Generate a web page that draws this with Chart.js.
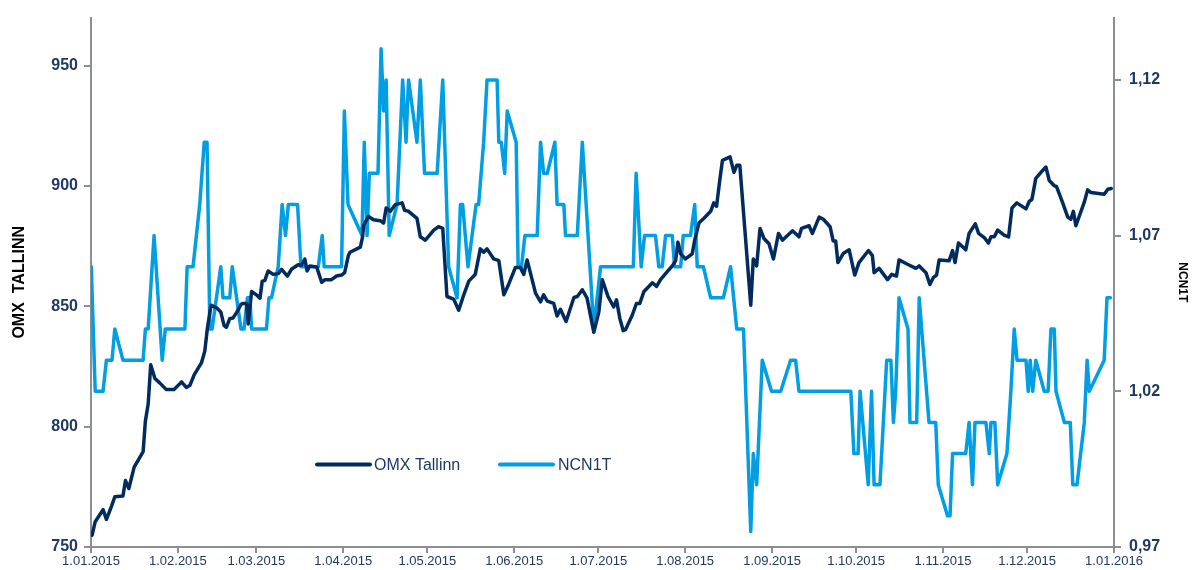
<!DOCTYPE html>
<html>
<head>
<meta charset="utf-8">
<script src="https://cdn.jsdelivr.net/npm/chart.js@4.4.1/dist/chart.umd.min.js"></script>
<style>
  html, body { margin: 0; padding: 0; background: #ffffff; }
  #wrap { position: relative; width: 1192px; height: 570px; }
</style>
</head>
<body>
<div id="wrap"><canvas id="c" width="1192" height="570"></canvas></div>
<script>
// ---- Data (x = days since 1.01.2015) ----
const monthTickDays = [0, 31, 59, 90, 120, 151, 181, 212, 243, 273, 304, 334, 365];
const monthTickLabels = ['1.01.2015', '1.02.2015', '1.03.2015', '1.04.2015', '1.05.2015', '1.06.2015',
  '1.07.2015', '1.08.2015', '1.09.2015', '1.10.2015', '1.11.2015', '1.12.2015', '1.01.2016'];
const leftTicks = [750, 800, 850, 900, 950];
const rightTicks = [0.97, 1.02, 1.07, 1.12];

const omxDays = [0.4,1.5,4.3,5.5,7.3,8.5,11.4,12.3,13.5,15.4,18.6,19.4,20.4,21.3,22.8,24.5,26.9,29.6,32.3,34,35.3,36.8,39.4,40.6,41.5,42.8,44.8,46.3,47.5,48.3,49.5,50.7,52.1,53.5,54.3,55.5,56.1,57.3,59,60.3,61.1,62,63.2,65,66.8,68,70.1,71.5,73.9,75.1,76.3,77.1,78.1,80.5,82.3,83.5,85.8,87.6,89.4,90.5,91.8,92.4,96.1,96.9,97.3,99,100.8,103.2,104.4,105.3,106.8,108.6,111,111.9,113.3,116.3,117.5,119.3,122.3,124,125.5,127,129.4,131.2,133,134.8,137.1,138.9,140.1,141.3,143.7,145.5,147.3,149,151.4,153.2,154.4,155.6,158.6,160.4,161.5,162.8,165.1,166.3,167.5,169.5,172.3,173.5,175.3,177,179.4,181.2,182.4,184.5,186.5,187.5,188.7,189.9,190.7,193.1,194.6,195.8,197.3,200.3,201.8,203.2,205.6,207.4,208.6,209.4,210.4,212.1,214.5,215.4,216.9,218.7,221.1,222.2,223.2,224.4,225.3,228,229.4,230.4,231.5,235.4,236.3,237.5,238.7,240.1,241.9,243.5,245.3,246.7,250.3,252.6,253.5,256.2,257.4,259.8,261.3,263.7,264.8,265.7,266.5,268.5,270.5,272.5,274,277.4,278.8,279.4,281.2,284.2,285.7,287.4,288.3,291.3,294.3,295.5,297.9,299.3,300.5,301.7,302.6,306.2,307.4,308.3,309.5,312.1,313.3,315.5,316.7,318.7,320.2,321.1,322.3,323.5,325.8,327.4,328.6,330.3,333.6,334.8,335.7,337.1,340.1,340.7,341.9,343.7,344.5,346.7,348.5,349.6,350.5,351.4,354.4,355.6,356.8,361.5,362.8,364];
const omxValues = [754.9,760.5,765.5,761.5,766.9,770.9,771.2,777.6,774.3,783.2,789.6,802.3,809.4,825.7,820,818.2,815.4,815.4,818.6,816.3,817.2,821.5,826.5,831.4,840.6,850.5,849.4,847.7,842,841.3,844.9,845.2,847.7,850.8,851.2,851.2,842.7,856.2,854.8,853.4,860.5,860.7,864.7,863.3,863.6,865.4,862.6,865.4,867.3,867.1,869.7,864.7,866.8,866.4,860,861.1,861.1,862.6,863,864,871,872.5,874.6,878.9,883.8,887.4,886,885.6,884.6,890.9,889.5,892.3,893,889.9,889.5,886.6,878.9,877.5,881.7,883.1,882.4,854.1,853,848.4,854.8,860.5,863.3,873.9,872.5,873.9,869.7,869,854.8,859.1,866.1,866.1,863.3,869.3,855.5,851.9,854.8,852.2,851.2,846,848.8,843.7,853.7,854.1,856.9,853.4,839.2,847.7,861.1,854,849.8,852.7,844.9,839.9,840.3,846.3,851.2,851.2,856.2,859.8,858.3,861.1,864.4,866.8,869,876.7,871.8,869.7,871.8,877.5,884.6,886.6,889.5,893,891.6,902.9,910.7,912.1,905.7,908.6,908.6,850.5,869.7,866.8,882.4,878.2,876,869.7,880.3,877.5,881.4,878.9,882.4,883.5,880.3,887.1,886.2,883.1,877.2,877.2,868.2,872.1,873.5,863,868.2,873.2,871.1,864,865.8,861.1,863.3,862.6,869.3,867.5,865.8,866.8,864,859.1,861.9,863,869.3,869,873.2,868.2,876.3,873.5,880.3,884.3,880.3,878.6,876.3,878.9,878.9,881.7,879.6,878.9,890.9,893,890.5,893.7,894.4,903.2,907.2,907.9,902.3,900.1,899.8,893,887.1,886.2,889.5,883.5,893.3,898.4,897.3,896.6,898.7,899];

const ncnDays = [0.1,1.5,4.3,5.5,7.5,8.5,11.4,18.6,19.4,20.4,22.5,25.4,26.5,33.5,34.3,36.4,38.8,40.4,41.4,42.4,43.2,46.3,47.1,49.5,50.4,53.5,54.6,55.8,56.7,57.3,62.6,63.5,64.4,66.8,68.2,69.4,70.4,73.7,74.9,81.1,82.5,83.2,89.4,90.4,91.7,96.7,97.5,98.5,99.3,102.4,103.5,104.4,105.3,106.4,109.2,111.2,112.4,113.3,116.3,117.5,119,123.5,125.5,127.6,130.6,131.8,132.6,134.5,137.4,138.3,140.1,141.3,144.9,145.5,146.4,147.6,148.5,151.7,152.4,153.6,154.8,159.2,160.4,161.5,162.8,165.5,166.3,168.7,169.3,173.5,175.3,179.4,181.8,193.5,194.5,196.3,197.5,201.4,202.6,203.8,205,207.4,208.2,210.4,211.3,213.9,215.4,216.3,218.5,221.1,225.6,228.2,230.4,232.8,235.4,236.3,237.5,239.5,242.8,246.1,249.6,251.4,252.6,271.1,272.2,273.7,274.4,277.3,278.5,279.4,281.5,283.9,285.4,286.3,287.1,288.3,291.5,292.2,294.6,295.5,299,301.4,302.3,305.6,306.5,307.4,312.1,313.3,314.5,315.4,319.3,320.5,321.1,322.5,323.5,326.8,328.2,329.4,330.4,333.6,334.4,335.1,336,337.1,340.1,341.5,342.5,343.7,344.3,347.3,349.4,350.3,351.8,354.4,355.4,356.2,361.5,362.5,363.7];
const ncnValues = [1.06,1.02,1.02,1.03,1.03,1.04,1.03,1.03,1.04,1.04,1.07,1.03,1.04,1.04,1.06,1.06,1.08,1.10,1.10,1.04,1.04,1.06,1.05,1.05,1.06,1.04,1.04,1.05,1.05,1.04,1.04,1.05,1.05,1.06,1.08,1.07,1.08,1.08,1.06,1.06,1.07,1.06,1.06,1.11,1.08,1.07,1.10,1.07,1.09,1.09,1.13,1.11,1.12,1.07,1.08,1.12,1.10,1.12,1.10,1.12,1.09,1.09,1.12,1.06,1.05,1.08,1.08,1.06,1.08,1.08,1.10,1.12,1.12,1.10,1.10,1.09,1.11,1.10,1.06,1.06,1.07,1.07,1.10,1.09,1.09,1.10,1.08,1.08,1.07,1.07,1.10,1.04,1.06,1.06,1.09,1.06,1.07,1.07,1.06,1.06,1.07,1.07,1.06,1.06,1.07,1.07,1.08,1.06,1.06,1.05,1.05,1.06,1.04,1.04,0.975,1.00,0.99,1.03,1.02,1.02,1.03,1.03,1.02,1.02,1.00,1.00,1.02,0.99,1.02,0.99,0.99,1.03,1.03,1.01,1.02,1.05,1.04,1.01,1.01,1.05,1.01,1.01,0.99,0.98,0.98,1.00,1.00,1.01,0.99,1.01,1.01,1.00,1.01,1.01,0.99,1.00,1.02,1.04,1.03,1.03,1.02,1.03,1.02,1.03,1.02,1.02,1.04,1.04,1.02,1.01,1.01,0.99,0.99,1.01,1.03,1.02,1.03,1.05,1.05];

const seriesNames = ['OMX Tallinn', 'NCN1T'];
const seriesColors = ['#002B5F', '#009FE3'];

// ---- Styles ----
const FONT = "'Liberation Sans', Arial, sans-serif";
const AXIS_COLOR = '#8A8E97';
const TEXT_NAVY = '#1F3864';

const toPoints = (xs, ys) => xs.map((x, i) => ({ x: x, y: ys[i] }));

// Legend drawn inside plot area
const insideLegend = {
  id: 'insideLegend',
  afterDraw(chart) {
    const ctx = chart.ctx;
    const a = chart.chartArea;
    const y = a.top + 447;
    const entries = [
      { lineFrom: 226, lineTo: 279, textX: 283 },
      { lineFrom: 409, lineTo: 462, textX: 467 }
    ];
    ctx.save();
    chart.data.datasets.forEach((ds, i) => {
      const e = entries[i];
      ctx.strokeStyle = ds.borderColor;
      ctx.lineWidth = 4;
      ctx.lineCap = 'round';
      ctx.beginPath();
      ctx.moveTo(a.left + e.lineFrom, y);
      ctx.lineTo(a.left + e.lineTo, y);
      ctx.stroke();
      ctx.fillStyle = TEXT_NAVY;
      ctx.font = '16px ' + FONT;
      ctx.textBaseline = 'middle';
      ctx.textAlign = 'left';
      ctx.fillText(ds.label, a.left + e.textX, y + 0.5);
    });
    ctx.restore();
  }
};

new Chart(document.getElementById('c'), {
  type: 'line',
  data: {
    datasets: [
      {
        label: seriesNames[0],
        data: toPoints(omxDays, omxValues),
        yAxisID: 'y',
        borderColor: seriesColors[0],
        backgroundColor: seriesColors[0],
        borderWidth: 3.5,
        pointRadius: 0,
        tension: 0,
        borderJoinStyle: 'round',
        borderCapStyle: 'round'
      },
      {
        label: seriesNames[1],
        data: toPoints(ncnDays, ncnValues),
        yAxisID: 'y1',
        borderColor: seriesColors[1],
        backgroundColor: seriesColors[1],
        borderWidth: 3.5,
        pointRadius: 0,
        tension: 0,
        borderJoinStyle: 'round',
        borderCapStyle: 'round'
      }
    ]
  },
  options: {
    responsive: false,
    animation: false,
    devicePixelRatio: 1,
    layout: { padding: { top: 13, left: 0, right: 0, bottom: 0 } },
    plugins: {
      legend: { display: false },
      tooltip: { enabled: false },
      title: { display: false }
    },
    scales: {
      x: {
        type: 'linear',
        position: 'bottom',
        min: 0,
        max: 365,
        afterBuildTicks: (s) => { s.ticks = monthTickDays.map(v => ({ value: v })); },
        afterFit: (s) => { s.height = 23; },
        grid: { display: true, drawOnChartArea: false, drawTicks: true, tickLength: 6, color: AXIS_COLOR, lineWidth: 2 },
        border: { display: true, color: AXIS_COLOR, width: 2 },
        ticks: {
          autoSkip: false, maxRotation: 0, minRotation: 0, padding: 1,
          color: TEXT_NAVY, font: { family: FONT, size: 13 },
          callback: (v, i) => monthTickLabels[i]
        }
      },
      y: {
        type: 'linear',
        position: 'left',
        min: 750,
        max: 970,
        afterBuildTicks: (s) => { s.ticks = leftTicks.map(v => ({ value: v })); },
        afterFit: (s) => { s.width = 91; },
        grid: { display: true, drawOnChartArea: false, drawTicks: true, tickLength: 7, color: AXIS_COLOR, lineWidth: 2 },
        border: { display: true, color: AXIS_COLOR, width: 2 },
        ticks: {
          padding: 6, color: TEXT_NAVY, font: { family: FONT, size: 16, weight: 'bold' },
          callback: (v) => String(v)
        },
        title: {
          display: true, text: 'OMX  TALLINN', color: '#000000',
          font: { family: FONT, size: 16, weight: 'bold' },
          padding: { top: 10, bottom: 0 }
        }
      },
      y1: {
        type: 'linear',
        position: 'right',
        min: 0.97,
        max: 1.14,
        afterBuildTicks: (s) => { s.ticks = rightTicks.map(v => ({ value: v })); },
        afterFit: (s) => { s.width = 78; },
        grid: { display: true, drawOnChartArea: false, drawTicks: true, tickLength: 7, color: AXIS_COLOR, lineWidth: 2 },
        border: { display: true, color: AXIS_COLOR, width: 2 },
        ticks: {
          padding: 8, color: TEXT_NAVY, font: { family: FONT, size: 16, weight: 'bold' },
          callback: (v) => v.toFixed(2).replace('.', ',')
        },
        title: {
          display: true, text: 'NCN1T', color: '#000000',
          font: { family: FONT, size: 12, weight: 'bold' },
          padding: { top: 2, bottom: 0 }
        }
      }
    }
  },
  plugins: [insideLegend]
});
</script>
</body>
</html>
